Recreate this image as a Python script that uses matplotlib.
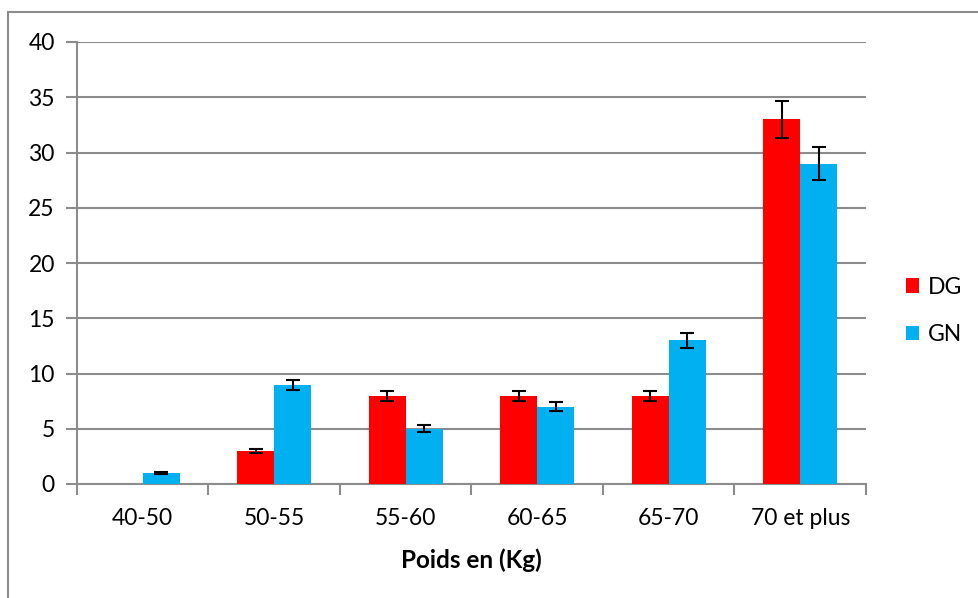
import matplotlib
matplotlib.use("Agg")
import matplotlib.pyplot as plt
import numpy as np
from matplotlib.patches import Rectangle

categories = ["40-50", "50-55", "55-60", "60-65", "65-70", "70 et plus"]
dg_values = [0, 3, 8, 8, 8, 33]
gn_values = [1, 9, 5, 7, 13, 29]
dg_err = [0, 0.2, 0.45, 0.45, 0.45, 1.65]
gn_err = [0.08, 0.45, 0.3, 0.4, 0.7, 1.5]
yticks = [0, 5, 10, 15, 20, 25, 30, 35, 40]

plt.rcParams['font.family'] = ['Lato', 'DejaVu Sans']

fig = plt.figure(figsize=(9.79, 5.98), dpi=100)
ax = fig.add_axes([77/979, 1-484/598, (866-77)/979, (484-42)/598])

x = np.arange(len(categories))
w = 0.28
grey = '#8c8c8c'
ax.bar(x - w/2, dg_values, w, color='#ff0000', label='DG', zorder=3)
ax.bar(x + w/2, gn_values, w, color='#00b0f0', label='GN', zorder=3)

dg_err_a = np.array(dg_err)
gn_err_a = np.array(gn_err)
m1 = dg_err_a > 0
m2 = gn_err_a > 0
ax.errorbar((x - w/2)[m1], np.array(dg_values)[m1], yerr=dg_err_a[m1], fmt='none',
            ecolor='black', elinewidth=1.5, capsize=5, capthick=1.5, zorder=4)
ax.errorbar((x + w/2)[m2], np.array(gn_values)[m2], yerr=gn_err_a[m2], fmt='none',
            ecolor='black', elinewidth=1.5, capsize=5, capthick=1.5, zorder=4)

ax.set_xlim(-0.5, len(categories) - 0.5)
ax.set_ylim(0, 40)
ax.set_yticks(yticks)
ax.yaxis.grid(True, color=grey, linewidth=1.5, zorder=0)
ax.set_axisbelow(True)

ax.set_xticks(x)
ax.set_xticklabels(categories, fontsize=16.5)
ax.tick_params(axis='x', length=0, pad=17)
ax.set_xticks(np.arange(-0.5, len(categories)), minor=True)
ax.tick_params(axis='x', which='minor', length=8, width=1.5, color=grey, direction='out')
ax.tick_params(axis='y', length=8, width=1.5, color=grey, labelsize=16.5, pad=8)

for s in ['top', 'right']:
    ax.spines[s].set_visible(False)
for s in ['left', 'bottom']:
    ax.spines[s].set_color(grey)
    ax.spines[s].set_linewidth(1.5)

ax.set_xlabel('Poids en (Kg)', fontsize=17.5, fontweight='bold', labelpad=14)

ax.legend(loc='center left', bbox_to_anchor=(1.024, 0.392), frameon=False,
          fontsize=16.5, handlelength=0.57, handleheight=0.57, labelspacing=1.15,
          handletextpad=0.4, borderpad=0.4)

fig.patches.append(Rectangle((8/979, -0.1), 1.2, 1 - 12/598 + 0.1,
                             transform=fig.transFigure, fill=False,
                             edgecolor=grey, linewidth=1.5))

fig.savefig('out.png', dpi=100)
